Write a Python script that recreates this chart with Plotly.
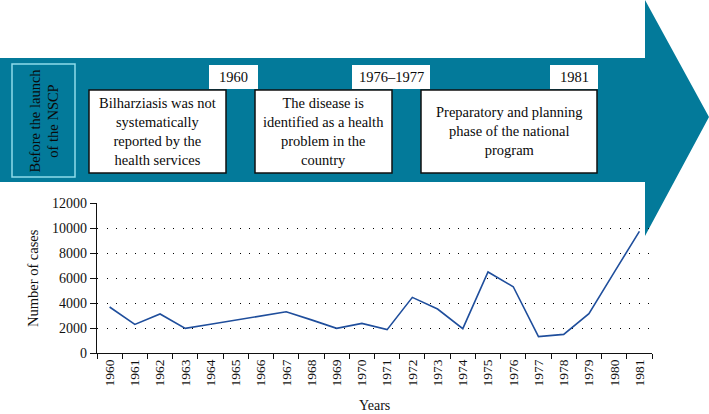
import plotly.graph_objects as go

years = [str(y) for y in range(1960, 1982)]
cases = [3680, 2290, 3120, 1970, 2300, 2620, 2950, 3300, 2650, 1970, 2370,
         1870, 4450, 3520, 1950, 6480, 5300, 1310, 1490, 3150, 6450, 9730]
y_ticks = [0, 2000, 4000, 6000, 8000, 10000, 12000]
y_tick_text = ["0", "2000", "4000", "6000", "8000", "10000", "12000"]

side_label = "Before the launch<br>of the NSCP"
box_texts = ["Bilharziasis was not<br>systematically<br>reported by the<br>health services",
             "The disease is<br>identified as a health<br>problem in the<br>country",
             "Preparatory and planning<br>phase of the national<br>program"]
date_labels = ["1960", "1976\u20131977", "1981"]

W, H = 709, 414
L, R, T, B = 97, 652, 203, 353
FONT = "Liberation Serif"
TEAL = "#037a9a"


def px(x):
    return (x - L) / (R - L)


def py(y):
    return (B - y) / (B - T)


fig = go.Figure()
fig.add_trace(go.Scatter(x=years, y=cases, mode="lines",
                         line=dict(color="#1f4e9c", width=1.6),
                         hoverinfo="skip", showlegend=False))

shapes = []
# arrow
pts = [(0, 58), (645, 58), (645, 0), (709, 117), (645, 236), (645, 182), (0, 182)]
path = "M " + " L ".join(f"{px(a):.5f},{py(b):.5f}" for a, b in pts) + " Z"
shapes.append(dict(type="path", xref="paper", yref="paper", path=path,
                   fillcolor=TEAL, line=dict(width=0), layer="below"))
# side box
shapes.append(dict(type="rect", xref="paper", yref="paper",
                   x0=px(12), x1=px(75), y0=py(177), y1=py(64),
                   fillcolor=TEAL, line=dict(color="#8fdcea", width=1.5), layer="below"))
# white boxes
boxes = [(89, 226), (255, 392), (421, 597)]
for x0, x1 in boxes:
    shapes.append(dict(type="rect", xref="paper", yref="paper",
                       x0=px(x0), x1=px(x1), y0=py(173), y1=py(90),
                       fillcolor="white", line=dict(color="#111111", width=1.5), layer="below"))
# date label boxes
lab_boxes = [(209, 258), (352, 430), (550, 598)]
for x0, x1 in lab_boxes:
    shapes.append(dict(type="rect", xref="paper", yref="paper",
                       x0=px(x0), x1=px(x1), y0=py(89), y1=py(65),
                       fillcolor="white", line=dict(width=0), layer="below"))

annotations = []
annotations.append(dict(x=px(44), y=py(120.5), xref="paper", yref="paper",
                        text=side_label, textangle=-90, showarrow=False,
                        font=dict(family=FONT, size=14.5, color="#0a0a0a"),
                        xanchor="center", yanchor="middle"))
for (x0, x1), t in zip(boxes, box_texts):
    annotations.append(dict(x=px((x0 + x1) / 2), y=py(131), xref="paper", yref="paper",
                            text=t, showarrow=False,
                            font=dict(family=FONT, size=14.5, color="#0a0a0a"),
                            xanchor="center", yanchor="middle"))
for (x0, x1), t in zip(lab_boxes, date_labels):
    annotations.append(dict(x=px((x0 + x1) / 2), y=py(77), xref="paper", yref="paper",
                            text=t, showarrow=False,
                            font=dict(family=FONT, size=14.5, color="#0a0a0a"),
                            xanchor="center", yanchor="middle"))
annotations.append(dict(x=px(33), y=py(278), xref="paper", yref="paper",
                        text="Number of cases", textangle=-90, showarrow=False,
                        font=dict(family=FONT, size=14.5, color="#111111"),
                        xanchor="center", yanchor="middle"))
annotations.append(dict(x=px(374), y=py(405), xref="paper", yref="paper",
                        text="Years", showarrow=False,
                        font=dict(family=FONT, size=14, color="#111111"),
                        xanchor="center", yanchor="middle"))

fig.update_layout(
    width=W, height=H,
    margin=dict(l=L, r=W - R, t=T, b=H - B, pad=0),
    paper_bgcolor="white", plot_bgcolor="rgba(0,0,0,0)",
    shapes=shapes, annotations=annotations,
    font=dict(family=FONT, size=13, color="#111111"),
    xaxis=dict(type="category", tickson="boundaries", ticks="outside", ticklen=5,
               tickcolor="#111111", tickwidth=1.3, showline=True, linecolor="#111111",
               linewidth=1.3, tickangle=-90, showgrid=False, range=[-0.5, 21.5],
               tickfont=dict(family=FONT, size=13.5, color="#111111")),
    yaxis=dict(range=[0, 12000], tickvals=y_ticks, ticktext=y_tick_text,
               ticks="outside", ticklen=6,
               tickcolor="#111111", tickwidth=1.3, showline=True, linecolor="#111111",
               linewidth=1.3, showgrid=True, gridcolor="#000000", gridwidth=1,
               griddash="1px,8.5px", zeroline=False,
               tickfont=dict(family=FONT, size=14, color="#111111")),
)

fig.write_html("out.html", config={"displayModeBar": False},
               post_script="document.body.style.margin='0';document.body.style.padding='0';document.body.style.overflow='hidden';")
